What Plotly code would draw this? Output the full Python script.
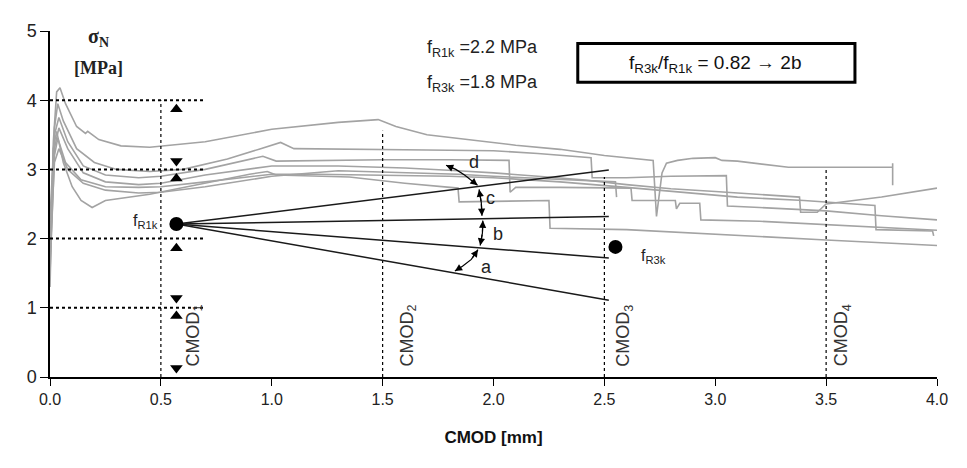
import plotly.graph_objects as go

# gray test curves (CMOD [mm], sigma_N [MPa])
c1_x = [0.0, 0.015, 0.03, 0.045, 0.07, 0.12, 0.16, 0.17, 0.22, 0.32, 0.45, 0.7, 1.0, 1.3, 1.48, 1.56, 1.7, 1.9,
        2.1, 2.3, 2.5, 2.72, 2.735, 2.76, 2.78, 2.83, 2.9, 3.0, 3.03, 3.1, 3.2, 3.33, 3.8, 3.8, 3.8]
c1_y = [1.6, 3.4, 4.12, 4.18, 3.95, 3.62, 3.52, 3.55, 3.43, 3.34, 3.32, 3.4, 3.58, 3.68, 3.72, 3.62, 3.5, 3.42,
        3.35, 3.29, 3.2, 3.13, 2.32, 2.95, 3.09, 3.13, 3.16, 3.17, 3.13, 3.12, 3.08, 3.03, 3.03, 3.09, 2.77]

c2_x = [0.0, 0.02, 0.035, 0.06, 0.12, 0.2, 0.3, 0.45, 0.6, 0.8, 0.95, 1.04, 1.1, 1.3, 1.7, 2.0, 2.2, 2.44,
        2.445, 2.6, 2.8, 3.05, 3.055, 3.2, 3.5, 3.75, 4.0]
c2_y = [2.0, 3.6, 3.95, 3.7, 3.3, 3.1, 3.0, 2.97, 3.0, 3.15, 3.3, 3.39, 3.3, 3.29, 3.28, 3.27, 3.23, 3.17,
        2.88, 2.88, 2.9, 2.91, 2.47, 2.45, 2.4, 2.33, 2.27]

c3_x = [0.0, 0.02, 0.04, 0.08, 0.15, 0.25, 0.4, 0.5, 0.7, 0.9, 0.96, 1.02, 1.2, 1.5, 1.8, 2.07, 2.075, 2.1,
        2.3, 2.62, 2.625, 2.82, 2.825, 2.84, 2.93, 2.935, 3.2, 3.6, 4.0]
c3_y = [2.3, 3.5, 3.75, 3.4, 3.05, 2.92, 2.88, 2.9, 3.0, 3.14, 3.19, 3.12, 3.13, 3.14, 3.14, 3.13, 2.67, 2.74,
        2.74, 2.73, 2.55, 2.55, 2.43, 2.51, 2.51, 2.27, 2.25, 2.19, 2.12]

c4_x = [0.0, 0.02, 0.04, 0.08, 0.15, 0.25, 0.4, 0.5, 0.7, 1.0, 1.3, 1.6, 1.84, 2.0, 2.2, 2.4, 2.6, 2.8, 3.0,
        3.1, 3.38, 3.385, 3.46, 3.5, 3.75, 4.0]
c4_y = [1.8, 3.3, 3.6, 3.3, 2.95, 2.82, 2.78, 2.8, 2.92, 3.05, 3.05, 3.02, 2.98, 2.95, 2.9, 2.85, 2.78, 2.72,
        2.68, 2.66, 2.6, 2.38, 2.38, 2.5, 2.6, 2.73]

c5_x = [0.0, 0.02, 0.035, 0.07, 0.14, 0.25, 0.4, 0.5, 0.7, 0.9, 1.0, 1.2, 1.5, 1.8, 2.0, 2.3, 2.6, 2.9, 3.1,
        3.4, 3.72, 3.725, 3.98, 3.985]
c5_y = [1.5, 3.2, 3.45, 3.1, 2.85, 2.75, 2.74, 2.75, 2.82, 2.9, 2.93, 2.93, 2.92, 2.9, 2.88, 2.82, 2.74, 2.65,
        2.6, 2.55, 2.48, 2.13, 2.11, 2.04]

c6_x = [0.0, 0.02, 0.04, 0.08, 0.15, 0.25, 0.4, 0.5, 0.7, 1.0, 1.3, 1.6, 1.84, 2.0, 2.3, 2.55, 2.555]
c6_y = [1.7, 3.1, 3.3, 3.0, 2.8, 2.7, 2.66, 2.67, 2.75, 2.9, 2.98, 2.95, 2.93, 2.9, 2.86, 2.82, 2.6]

c7_x = [0.0, 0.015, 0.03, 0.06, 0.1, 0.14, 0.19, 0.25, 0.45, 0.7, 0.9, 0.98, 1.02, 1.35, 1.6, 1.84, 1.845,
        2.25, 2.255, 2.6, 3.0, 3.5, 4.0]
c7_y = [1.3, 3.3, 3.55, 3.1, 2.75, 2.55, 2.45, 2.55, 2.64, 2.8, 2.93, 2.97, 2.92, 2.89, 2.8, 2.73, 2.53,
        2.55, 2.15, 2.13, 2.06, 1.98, 1.9]

curves = [(c1_x, c1_y), (c2_x, c2_y), (c3_x, c3_y), (c4_x, c4_y), (c5_x, c5_y), (c6_x, c6_y), (c7_x, c7_y)]

# characteristic points and fan lines
fr1k = (0.57, 2.21)
fr3k = (2.55, 1.88)
fan_end_x = 2.52
fan_end_y = [1.11, 1.72, 2.32, 2.99]

# CMOD reference values and dotted guide lines
cmod_x = [0.5, 1.5, 2.5, 3.5]
cmod_top = [4.0, 3.56, 2.89, 3.03]
cmod_labels = ["CMOD<sub>1</sub>", "CMOD<sub>2</sub>", "CMOD<sub>3</sub>", "CMOD<sub>4</sub>"]
cmod_label_x = [0.65, 1.615, 2.59, 3.575]
guide_y = [1, 2, 3, 4]
guide_x_end = 0.70

# range triangles at x = 0.57
tri_up_y = [3.87, 2.87, 1.86, 0.88]
tri_down_y = [3.12, 1.14, 0.13]

# angle arcs
arc_d = ([1.786, 1.83, 1.871, 1.905, 1.928], [3.06, 3.0, 2.915, 2.83, 2.77])
arc_c = ([1.935, 1.945, 1.948], [2.71, 2.52, 2.33])
arc_b = ([1.952, 1.95, 1.94], [2.26, 2.08, 1.9])
arc_a = ([1.93, 1.9, 1.86, 1.826], [1.84, 1.7, 1.6, 1.53])
arc_labels = ["d", "c", "b", "a"]
arc_label_pos = [(1.91, 3.10), (1.985, 2.58), (2.02, 2.06), (1.97, 1.59)]

fig = go.Figure()

for cx, cy in curves:
    fig.add_trace(go.Scatter(x=cx, y=cy, mode="lines", line=dict(color="#a3a3a3", width=1.6),
                             showlegend=False, hoverinfo="skip"))

# dotted guides
for gy in guide_y:
    fig.add_trace(go.Scatter(x=[0, guide_x_end], y=[gy, gy], mode="lines",
                             line=dict(color="black", width=2, dash="dot"), showlegend=False))
for vx, vt in zip(cmod_x, cmod_top):
    fig.add_trace(go.Scatter(x=[vx, vx], y=[0, vt], mode="lines",
                             line=dict(color="black", width=1.2, dash="dot"), showlegend=False))

# fan lines
for ey in fan_end_y:
    fig.add_trace(go.Scatter(x=[fr1k[0], fan_end_x], y=[fr1k[1], ey], mode="lines",
                             line=dict(color="#1a1a1a", width=1.5), showlegend=False))

# points
fig.add_trace(go.Scatter(x=[fr1k[0], fr3k[0]], y=[fr1k[1], fr3k[1]], mode="markers",
                         marker=dict(color="black", size=14), showlegend=False))

# triangles
fig.add_trace(go.Scatter(x=[0.57] * len(tri_up_y), y=tri_up_y, mode="markers",
                         marker=dict(symbol="triangle-up", color="black", size=11), showlegend=False,
                         cliponaxis=False))
fig.add_trace(go.Scatter(x=[0.57] * len(tri_down_y), y=tri_down_y, mode="markers",
                         marker=dict(symbol="triangle-down", color="black", size=11), showlegend=False,
                         cliponaxis=False))

# arcs with arrowheads
for ax_, ay_ in [arc_d, arc_c, arc_b, arc_a]:
    fig.add_trace(go.Scatter(x=ax_, y=ay_, mode="lines", line=dict(color="black", width=1.2),
                             showlegend=False))
    for i_end, i_prev in [(0, 1), (-1, -2)]:
        fig.add_annotation(x=ax_[i_end], y=ay_[i_end], ax=ax_[i_prev], ay=ay_[i_prev],
                           xref="x", yref="y", axref="x", ayref="y", text="", showarrow=True,
                           arrowhead=2, arrowsize=1.2, arrowwidth=1.2, arrowcolor="black")

for lab, (lx, ly) in zip(arc_labels, arc_label_pos):
    fig.add_annotation(x=lx, y=ly, text=lab, showarrow=False,
                       font=dict(family="Arial", size=18, color="#222"))

# CMOD labels
for lx, lab in zip(cmod_label_x, cmod_labels):
    fig.add_annotation(x=lx, y=0.6, text=lab, textangle=-90, showarrow=False,
                       font=dict(family="Arial", size=18, color="#333"))

# text
fig.add_annotation(x=0.43, y=2.24, text="f<sub>R1k</sub>", showarrow=False,
                   font=dict(family="Arial", size=16, color="#222"))
fig.add_annotation(x=2.72, y=1.74, text="f<sub>R3k</sub>", showarrow=False,
                   font=dict(family="Arial", size=16, color="#222"))
fig.add_annotation(x=1.95, y=4.75, text="f<sub>R1k</sub> =2.2 MPa", showarrow=False,
                   font=dict(family="Arial", size=18, color="#222"))
fig.add_annotation(x=1.95, y=4.24, text="f<sub>R3k</sub> =1.8 MPa", showarrow=False,
                   font=dict(family="Arial", size=18, color="#222"))
fig.add_annotation(x=0.22, y=4.9, text="<b>σ<sub>N</sub></b>", showarrow=False,
                   font=dict(family="Liberation Serif", size=20, color="#222"))
fig.add_annotation(x=0.22, y=4.47, text="<b>[MPa]</b>", showarrow=False,
                   font=dict(family="Liberation Serif", size=18, color="#222"))

fig.add_shape(type="rect", x0=2.38, x1=3.63, y0=4.26, y1=4.82, xref="x", yref="y",
              line=dict(color="black", width=3), fillcolor="white")
fig.add_annotation(x=3.0, y=4.53, text="f<sub>R3k</sub>/f<sub>R1k</sub> = 0.82 → 2b", showarrow=False,
                   font=dict(family="Arial", size=19, color="#111"))

axis_font = dict(family="Liberation Sans Narrow, Arial Narrow, Arial", size=16, color="#222")
fig.update_xaxes(range=[0, 4], tickvals=[0, 0.5, 1, 1.5, 2, 2.5, 3, 3.5, 4], tickformat=".1f",
                 showline=True, linecolor="black", linewidth=1.5, ticks="outside", ticklen=7,
                 tickcolor="black", showgrid=False, zeroline=False, tickfont=axis_font, automargin=False,
                 title=dict(text="<b>CMOD [mm]</b>", font=dict(family="Arial", size=17, color="#111"),
                            standoff=24))
fig.update_yaxes(range=[0, 5], tickvals=[0, 1, 2, 3, 4, 5], showline=True, linecolor="black",
                 linewidth=1.5, ticks="outside", ticklen=8, tickcolor="black", showgrid=False,
                 zeroline=False, automargin=False, tickfont=dict(family="Arial", size=18, color="#222"))

fig.update_layout(width=951, height=452, margin=dict(l=42, r=22, t=23, b=83),
                  plot_bgcolor="white", paper_bgcolor="white", showlegend=False)

fig.write_html("out.html")
